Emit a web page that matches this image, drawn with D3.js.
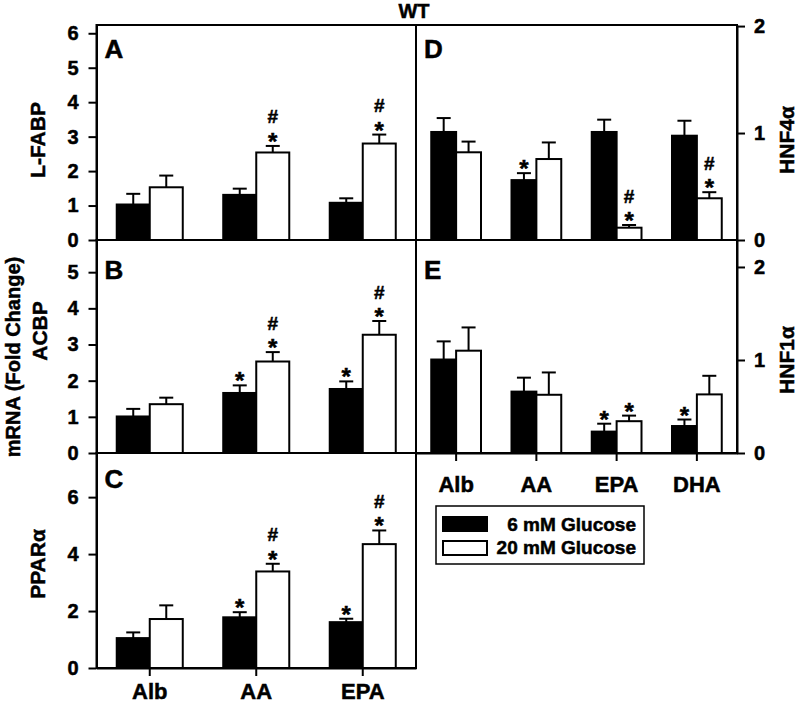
<!DOCTYPE html>
<html><head><meta charset="utf-8">
<script src="https://cdn.jsdelivr.net/npm/d3@7"></script>
<style>
body{margin:0;background:#fff;}
svg{display:block;font-family:"Liberation Sans",Arial,Helvetica,sans-serif;font-weight:bold;}
svg text{fill:#000;stroke:#000;stroke-width:0.5px;paint-order:stroke;}
</style>
</head><body>
<svg id="chart" width="799" height="704"></svg>
<script>
// ---------------- DATA ----------------
const leftCategories  = ["Alb", "AA", "EPA"];
const rightCategories = ["Alb", "AA", "EPA", "DHA"];
const seriesNames = ["6 mM Glucose", "20 mM Glucose"];

// A: L-FABP
const lfabp6     = [1.03, 1.31, 1.08];
const lfabp6Err  = [0.31, 0.18, 0.13];
const lfabp20    = [1.53, 2.54, 2.80];
const lfabp20Err = [0.34, 0.19, 0.26];
const lfabp6Sig  = ["", "", ""];
const lfabp20Sig = ["", "#*", "#*"];

// B: ACBP
const acbp6     = [1.01, 1.66, 1.77];
const acbp6Err  = [0.21, 0.21, 0.21];
const acbp20    = [1.35, 2.53, 3.27];
const acbp20Err = [0.18, 0.26, 0.38];
const acbp6Sig  = ["", "*", "*"];
const acbp20Sig = ["", "#*", "#*"];

// C: PPARalpha
const ppar6     = [1.05, 1.78, 1.61];
const ppar6Err  = [0.20, 0.18, 0.12];
const ppar20    = [1.72, 3.39, 4.35];
const ppar20Err = [0.48, 0.27, 0.48];
const ppar6Sig  = ["", "*", "*"];
const ppar20Sig = ["", "#*", "#*"];

// D: HNF4alpha
const hnf4a6     = [1.01, 0.56, 1.01, 0.975];
const hnf4a6Err  = [0.13, 0.065, 0.115, 0.14];
const hnf4a20    = [0.82, 0.757, 0.115, 0.39];
const hnf4a20Err = [0.10, 0.155, 0.025, 0.057];
const hnf4a6Sig  = ["", "*", "", ""];
const hnf4a20Sig = ["", "", "#*", "#*"];

// E: HNF1alpha
const hnf1a6     = [1.005, 0.66, 0.23, 0.29];
const hnf1a6Err  = [0.195, 0.15, 0.085, 0.07];
const hnf1a20    = [1.10, 0.626, 0.342, 0.63];
const hnf1a20Err = [0.25, 0.24, 0.06, 0.20];
const hnf1a6Sig  = ["", "", "*", "*"];
const hnf1a20Sig = ["", "", "*", ""];

// tick values
const ticksA = [0, 1, 2, 3, 4, 5, 6];
const ticksB = [0, 1, 2, 3, 4, 5];
const ticksC = [0, 2, 4, 6];
const ticksD = [0, 1, 2];
const ticksE = [0, 1, 2];

// ---------------- LAYOUT ----------------
const svg = d3.select("#chart");
const colX = { left: [96.5, 416], right: [416, 737] };
const rowY = [[25, 240], [240, 453], [453, 668]];

const panels = [
  { letter: "A", title: "L-FABP", col: "left", row: 0, cats: leftCategories, domain: [0, 6.24], ticks: ticksA,
    s6: lfabp6, e6: lfabp6Err, s20: lfabp20, e20: lfabp20Err, g6: lfabp6Sig, g20: lfabp20Sig,
    letterY: 58, titleX: 45, titleY: 140, xAxis: false },
  { letter: "B", title: "ACBP", col: "left", row: 1, cats: leftCategories, domain: [0, 5.89], ticks: ticksB,
    s6: acbp6, e6: acbp6Err, s20: acbp20, e20: acbp20Err, g6: acbp6Sig, g20: acbp20Sig,
    letterY: 279, titleX: 47, titleY: 331, xAxis: false },
  { letter: "C", title: "PPARα", col: "left", row: 2, cats: leftCategories, domain: [0, 7.55], ticks: ticksC,
    s6: ppar6, e6: ppar6Err, s20: ppar20, e20: ppar20Err, g6: ppar6Sig, g20: ppar20Sig,
    letterY: 488, titleX: 45, titleY: 564, xAxis: true, xPad: 7 },
  { letter: "D", title: "HNF4α", col: "right", row: 0, cats: rightCategories, domain: [0, 2.01], ticks: ticksD,
    s6: hnf4a6, e6: hnf4a6Err, s20: hnf4a20, e20: hnf4a20Err, g6: hnf4a6Sig, g20: hnf4a20Sig,
    letterY: 58, titleX: 794, titleY: 140, xAxis: false },
  { letter: "E", title: "HNF1α", col: "right", row: 1, cats: rightCategories, domain: [0, 2.29], ticks: ticksE,
    s6: hnf1a6, e6: hnf1a6Err, s20: hnf1a20, e20: hnf1a20Err, g6: hnf1a6Sig, g20: hnf1a20Sig,
    letterY: 279, titleX: 794, titleY: 360, xAxis: true, xPad: 15 }
];

const barFrac = 0.31;

panels.forEach(p => {
  const [x0, x1] = colX[p.col];
  const [yTop, yBot] = rowY[p.row];
  const x = d3.scaleBand().domain(p.cats).range([x0, x1]).padding(0);
  const y = d3.scaleLinear().domain(p.domain).range([yBot, yTop]);
  const w = x.bandwidth() * barFrac;
  const g = svg.append("g");

  const series = [
    { vals: p.s6, errs: p.e6, sig: p.g6, fill: "#000", off: -1 },
    { vals: p.s20, errs: p.e20, sig: p.g20, fill: "#fff", off: 0 }
  ];

  series.forEach(s => {
    const rows = p.cats.map((c, i) => ({ c, v: s.vals[i], e: s.errs[i], sig: s.sig[i] }));
    const cx = d => x(d.c) + x.bandwidth() / 2 + (s.off === -1 ? -w / 2 : w / 2);
    // error bars
    g.selectAll(null).data(rows).enter().append("line")
      .attr("x1", cx).attr("x2", cx)
      .attr("y1", d => y(d.v)).attr("y2", d => y(d.v + d.e))
      .attr("stroke", "#000").attr("stroke-width", 2);
    g.selectAll(null).data(rows).enter().append("line")
      .attr("x1", d => cx(d) - 7).attr("x2", d => cx(d) + 7)
      .attr("y1", d => y(d.v + d.e)).attr("y2", d => y(d.v + d.e))
      .attr("stroke", "#000").attr("stroke-width", 2);
    // bars
    g.selectAll(null).data(rows).enter().append("rect")
      .attr("x", d => x(d.c) + x.bandwidth() / 2 + (s.off === -1 ? -w : 0))
      .attr("width", w)
      .attr("y", d => y(d.v))
      .attr("height", d => y(0) - y(d.v))
      .attr("fill", s.fill).attr("stroke", "#000").attr("stroke-width", 2);
    // significance marks
    rows.filter(d => d.sig).forEach(d => {
      const capY = y(d.v + d.e);
      if (d.sig.includes("#")) {
        g.append("text").attr("text-anchor", "middle")
          .attr("x", cx(d)).attr("y", capY - 22.5).attr("font-size", 19).text("#");
      }
      if (d.sig.includes("*")) {
        g.append("text").attr("text-anchor", "middle")
          .attr("x", cx(d)).attr("y", capY + 4).attr("font-size", 24).text("*");
      }
    });
  });

  // frame
  g.append("rect").attr("x", x0).attr("y", yTop).attr("width", x1 - x0).attr("height", yBot - yTop)
    .attr("fill", "none").attr("stroke", "#000").attr("stroke-width", 2);

  // y axis
  const yAxis = (p.col === "left" ? d3.axisLeft(y) : d3.axisRight(y))
    .tickValues(p.ticks).tickSize(8).tickSizeOuter(0).tickPadding(p.col === "left" ? 10 : 9)
    .tickFormat(d3.format("d"));
  const ya = g.append("g").attr("transform", `translate(${p.col === "left" ? x0 : x1},0)`).call(yAxis);
  ya.attr("font-family", null);
  ya.select(".domain").attr("stroke-width", 2);
  ya.selectAll(".tick line").attr("stroke-width", 2);
  ya.selectAll(".tick text").attr("font-size", 20).attr("fill", "#000");

  // x axis
  if (p.xAxis) {
    const xa = g.append("g").attr("transform", `translate(0,${yBot})`)
      .call(d3.axisBottom(x).tickSize(8).tickSizeOuter(0).tickPadding(p.xPad));
    xa.attr("font-family", null);
    xa.select(".domain").attr("stroke-width", 2);
    xa.selectAll(".tick line").attr("stroke-width", 2);
    xa.selectAll(".tick text").attr("font-size", 22).attr("fill", "#000");
  }

  // panel letter
  g.append("text").attr("x", x0 + 8).attr("y", p.letterY).attr("font-size", 26).text(p.letter);

  // axis title
  g.append("text").attr("transform", `translate(${p.titleX},${p.titleY}) rotate(-90)`)
    .attr("text-anchor", "middle").attr("font-size", 21).text(p.title);
});

// shared y title
svg.append("text").attr("transform", "translate(20,357) rotate(-90)")
  .attr("text-anchor", "middle").attr("font-size", 20).text("mRNA (Fold Change)");

// figure title
svg.append("text").attr("x", 414).attr("y", 18).attr("text-anchor", "middle")
  .attr("font-size", 20).text("WT");

// legend
const lg = svg.append("g");
lg.append("rect").attr("x", 436).attr("y", 506).attr("width", 208).attr("height", 58)
  .attr("fill", "#fff").attr("stroke", "#000").attr("stroke-width", 1.5);
seriesNames.forEach((name, i) => {
  lg.append("rect").attr("x", 443).attr("y", 517 + i * 24).attr("width", 44).attr("height", 14)
    .attr("fill", i === 0 ? "#000" : "#fff").attr("stroke", "#000").attr("stroke-width", 2);
  lg.append("text").attr("x", 636).attr("y", 531 + i * 23).attr("text-anchor", "end")
    .attr("font-size", 19).text(name);
});
</script>
</body></html>
